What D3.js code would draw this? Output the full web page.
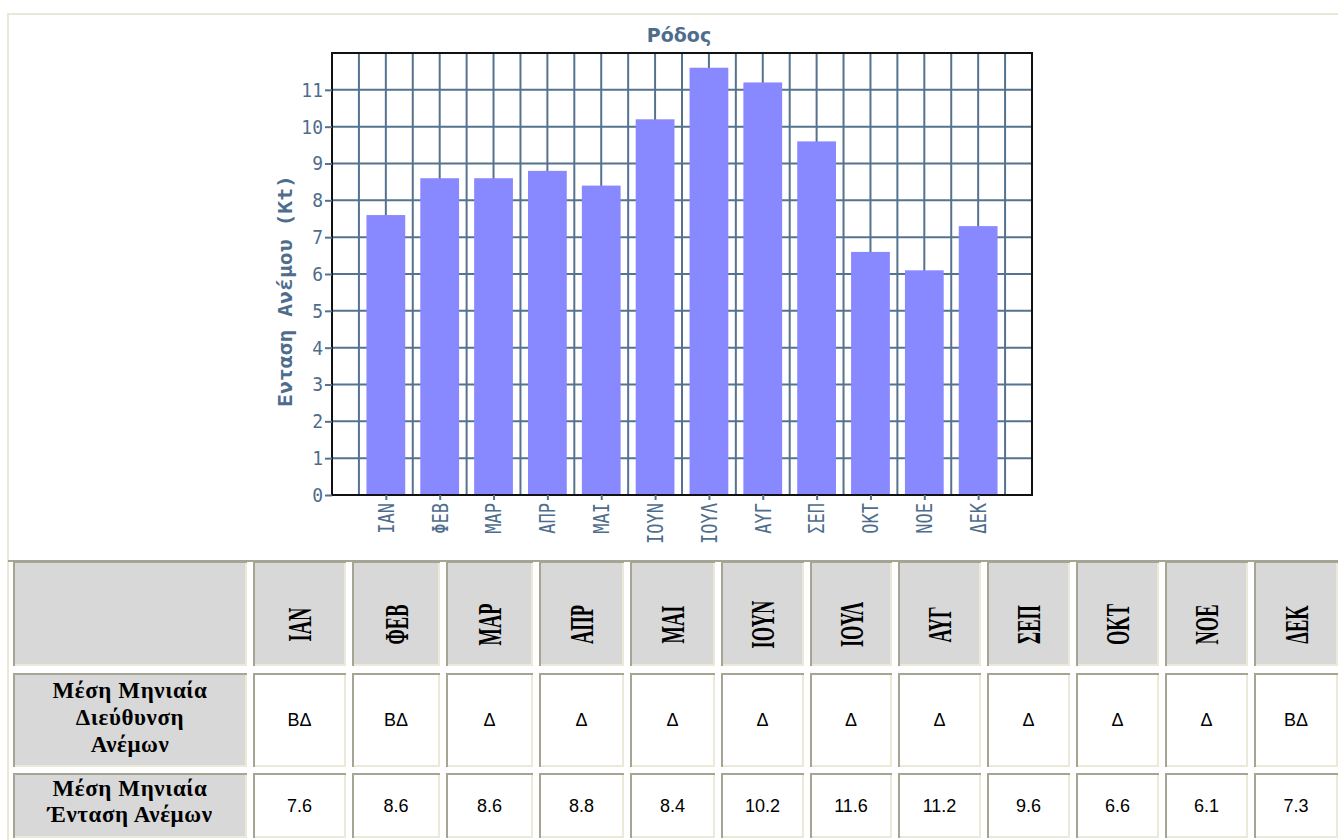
<!DOCTYPE html>
<html>
<head>
<meta charset="utf-8">
<script src="https://cdn.jsdelivr.net/npm/d3@7"></script>
<style>
  html, body { margin: 0; padding: 0; background: #ffffff; overflow: hidden; }
  svg { display: block; }
</style>
</head>
<body>
<svg id="chart" width="1338" height="840"></svg>
<script>
// ---------- DATA ----------
const chartTitle = "Ρόδος";
const yAxisTitle = "Ενταση Ανέμου  (Kt)";
const months = ["ΙΑΝ","ΦΕΒ","ΜΑΡ","ΑΠΡ","ΜΑΙ","ΙΟΥΝ","ΙΟΥΛ","ΑΥΓ","ΣΕΠ","ΟΚΤ","ΝΟΕ","ΔΕΚ"];
const windSpeed = [7.6, 8.6, 8.6, 8.8, 8.4, 10.2, 11.6, 11.2, 9.6, 6.6, 6.1, 7.3];
const windDirection = ["ΒΔ","ΒΔ","Δ","Δ","Δ","Δ","Δ","Δ","Δ","Δ","Δ","ΒΔ"];
const yTickValues = [0,1,2,3,4,5,6,7,8,9,10,11];
const rowLabelDirection = ["Μέση Μηνιαία","Διεύθυνση","Ανέμων"];
const rowLabelSpeed = ["Μέση Μηνιαία","Ένταση Ανέμων"];

// ---------- LAYOUT ----------
const svg = d3.select("#chart");
const plot = {left: 332, right: 1032, top: 53, bottom: 495};
const gridColor = "#55728f";
const textColor = "#4e6d8c";
const barColor = "#8888ff";
const monoFont = "'DejaVu Sans Mono', monospace";

// outer page frame (beige)
svg.append("path")
  .attr("d", "M8,840 L8,14 L1338,14")
  .attr("fill", "none").attr("stroke", "#ebe7d7").attr("stroke-width", 2);

const x = d3.scaleLinear().domain([0, months.length + 1]).range([plot.left, plot.right]);
const y = d3.scaleLinear().domain([0, 12]).range([plot.bottom, plot.top]);

const g = svg.append("g");

// grid lines
g.append("g").selectAll("line.v")
  .data(d3.range(1, 2 * (months.length + 1)).map(k => k / 2))
  .join("line")
  .attr("x1", d => x(d)).attr("x2", d => x(d))
  .attr("y1", plot.top).attr("y2", plot.bottom)
  .attr("stroke", gridColor).attr("stroke-width", 2);
g.append("g").selectAll("line.h")
  .data(yTickValues.filter(v => v > 0))
  .join("line")
  .attr("x1", plot.left).attr("x2", plot.right)
  .attr("y1", d => y(d)).attr("y2", d => y(d))
  .attr("stroke", gridColor).attr("stroke-width", 2);

// bars
const barW = 0.72;
g.append("g").selectAll("rect")
  .data(windSpeed)
  .join("rect")
  .attr("x", (d, i) => x(i + 1 - barW / 2))
  .attr("width", x(barW) - x(0))
  .attr("y", d => y(d))
  .attr("height", d => y(0) - y(d))
  .attr("fill", barColor);

// frame
g.append("rect")
  .attr("x", plot.left).attr("y", plot.top)
  .attr("width", plot.right - plot.left).attr("height", plot.bottom - plot.top)
  .attr("fill", "none").attr("stroke", "#111").attr("stroke-width", 2);

// y axis
const yAxis = g.append("g")
  .attr("transform", `translate(${plot.left},0)`)
  .call(d3.axisLeft(y).tickValues(yTickValues).tickSize(7).tickPadding(2).tickFormat(d3.format("d")));
yAxis.select(".domain").remove();
yAxis.selectAll(".tick line").attr("stroke", gridColor).attr("stroke-width", 2);
yAxis.selectAll(".tick text")
  .attr("fill", textColor)
  .style("font-family", monoFont)
  .style("font-size", "18px")
  .attr("transform", "scale(1,1.12)")
  .attr("y", 0);

// x axis
const xAxis = g.append("g")
  .attr("transform", `translate(0,${plot.bottom})`)
  .call(d3.axisBottom(x).tickValues(d3.range(1, months.length + 1)).tickSize(5).tickFormat(d => months[d - 1]));
xAxis.select(".domain").remove();
xAxis.selectAll(".tick line").attr("stroke", gridColor).attr("stroke-width", 2);
xAxis.selectAll(".tick text")
  .attr("fill", textColor)
  .style("font-family", monoFont)
  .style("font-size", "17px")
  .attr("text-anchor", "end")
  .attr("transform", "rotate(-90) scale(1,1.2)")
  .attr("x", -8)
  .attr("y", 0)
  .attr("dy", "0.36em");

// titles
g.append("text")
  .attr("x", (plot.left + plot.right) / 2 - 3)
  .attr("y", 42)
  .attr("text-anchor", "middle")
  .attr("fill", textColor)
  .style("font-family", "'DejaVu Sans', sans-serif")
  .style("font-weight", "bold")
  .style("font-size", "19px")
  .text(chartTitle);

g.append("text")
  .attr("transform", `translate(285,291) rotate(-90)`)
  .attr("text-anchor", "middle")
  .attr("fill", textColor)
  .style("font-family", monoFont)
  .style("font-weight", "bold")
  .style("font-size", "19px")
  .attr("textLength", 232)
  .attr("lengthAdjust", "spacingAndGlyphs")
  .attr("dy", "0.35em")
  .text(yAxisTitle);

// ---------- TABLE ----------
const colBounds = [250, 349, 443, 536, 627, 718, 807, 895, 984, 1073, 1162, 1251, 1341];
const rows = [
  {top: 561, bottom: 666},
  {top: 673, bottom: 767},
  {top: 773, bottom: 838}
];
const labelCol = {left: 13, right: 247};
const darkEdge = "#a6a493";
const lightEdge = "#ece9d8";
const cellGray = "#d8d8d8";

const tbl = svg.append("g");

function cell(x0, x1, y0, y1, fill) {
  const c = tbl.append("g");
  c.append("rect").attr("x", x0).attr("y", y0).attr("width", x1 - x0).attr("height", y1 - y0).attr("fill", fill);
  c.append("path").attr("d", `M${x0+1},${y1} L${x0+1},${y0+1} L${x1},${y0+1}`)
    .attr("fill", "none").attr("stroke", darkEdge).attr("stroke-width", 2);
  c.append("path").attr("d", `M${x1-1},${y0+2} L${x1-1},${y1-1} L${x0+2},${y1-1}`)
    .attr("fill", "none").attr("stroke", lightEdge).attr("stroke-width", 2);
  return c;
}

// table top line
tbl.append("line").attr("x1", 8).attr("x2", 1338).attr("y1", 561).attr("y2", 561)
  .attr("stroke", darkEdge).attr("stroke-width", 2);

// header row
cell(labelCol.left, labelCol.right, rows[0].top, rows[0].bottom, cellGray);
months.forEach((m, i) => {
  const x0 = colBounds[i] + 3, x1 = colBounds[i + 1] - 3;
  cell(x0, x1, rows[0].top, rows[0].bottom, cellGray);
  tbl.append("text")
    .attr("transform", `translate(${(x0 + x1) / 2},${(rows[0].top + rows[0].bottom) / 2 + 11}) rotate(-90) scale(0.56,1)`)
    .attr("text-anchor", "middle")
    .attr("dy", "0.36em")
    .style("font-family", "'Liberation Serif', 'Times New Roman', serif")
    .style("font-weight", "bold")
    .style("font-size", "33px")
    .attr("fill", "#000")
    .text(m);
});

// row label cells
function labelCell(row, lines, lh, shift) {
  cell(labelCol.left, labelCol.right, row.top, row.bottom, cellGray);
  const cy = (row.top + row.bottom) / 2 - (lines.length - 1) * lh / 2 + shift;
  const t = tbl.append("text")
    .attr("text-anchor", "middle")
    .style("font-family", "'Liberation Serif', 'Times New Roman', serif")
    .style("font-weight", "bold")
    .style("font-size", "23px")
    .style("letter-spacing", "0.6px")
    .attr("fill", "#000");
  lines.forEach((l, k) => {
    t.append("tspan").attr("x", (labelCol.left + labelCol.right) / 2).attr("y", cy + k * lh).attr("dy", "0.35em").text(l);
  });
}
labelCell(rows[1], rowLabelDirection, 27, -3);
labelCell(rows[2], rowLabelSpeed, 26, -5);

// data cells
function dataRow(row, values) {
  values.forEach((v, i) => {
    const x0 = colBounds[i] + 3, x1 = colBounds[i + 1] - 3;
    cell(x0, x1, row.top, row.bottom, "#ffffff");
    tbl.append("text")
      .attr("x", (x0 + x1) / 2)
      .attr("y", (row.top + row.bottom) / 2)
      .attr("dy", "0.35em")
      .attr("text-anchor", "middle")
      .style("font-family", "'Liberation Sans', Arial, sans-serif")
      .style("font-size", "18px")
      .attr("fill", "#000")
      .text(v);
  });
}
dataRow(rows[1], windDirection);
dataRow(rows[2], windSpeed.map(d => d3.format(".1f")(d)));
</script>
</body>
</html>
